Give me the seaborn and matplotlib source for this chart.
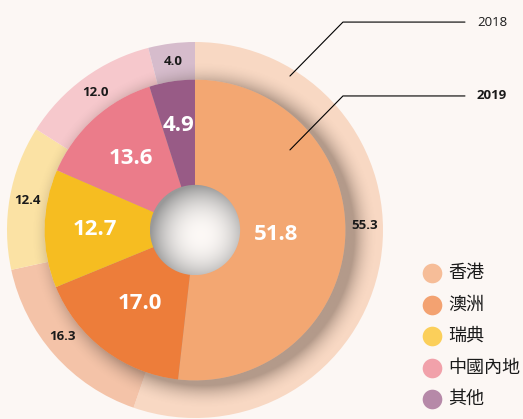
import numpy as np
import matplotlib.pyplot as plt
import seaborn as sns
from matplotlib.patches import Circle

# data
categories = ['香港', '澳洲', '瑞典', '中國內地', '其他']
values_2018 = [55.3, 16.3, 12.4, 12.0, 4.0]
values_2019 = [51.8, 17.0, 12.7, 13.6, 4.9]
years = ['2018', '2019']

colors_2018 = ['#f8d8c3', '#f4c3a8', '#fbe2a4', '#f6c8cc', '#d6bccc']
colors_2019 = ['#f3a772', '#ed7d3a', '#f6bd21', '#eb7c8a', '#985b86']
legend_colors = ['#f6bd98', '#f3a271', '#fbcf5a', '#f1a1aa', '#b689a8']
bg = '#fcf7f4'

sns.set_style('white')
plt.rcParams['font.family'] = ['Open Sans', 'Noto Sans CJK TC', 'DejaVu Sans']

fig = plt.figure(figsize=(5.23, 4.19), dpi=100, facecolor=bg)
ax = fig.add_axes([0, 0, 1, 1])
ax.set_facecolor(bg)

R_OUT, R_IN, R_HOLE = 1.0, 0.80, 0.24


def mid_angles(vals):
    cum = np.cumsum(vals) - np.array(vals) / 2
    return 90 - 360 * cum / sum(vals)


# outer ring (2018)
w_out, _ = ax.pie(values_2018, radius=R_OUT, colors=colors_2018, startangle=90,
                  counterclock=False, wedgeprops=dict(width=R_OUT - R_IN, linewidth=0))
for w in w_out:
    w.set_zorder(1)

# soft shadow of the inner disc falling on the outer ring
n = 600
g = np.linspace(-1, 1, n)
X, Y = np.meshgrid(g, g)
d = np.hypot(X - 0.05, Y + 0.03) - R_IN
alpha = 0.42 * np.clip(1 - d / 0.125, 0, 1) ** 2
shadow = np.zeros((n, n, 4))
shadow[..., :3] = np.array([0x55, 0x45, 0x3c]) / 255
shadow[..., 3] = alpha
ring = Circle((0, 0), R_OUT, transform=ax.transData)
sh = ax.imshow(shadow, extent=[-1, 1, -1, 1], origin='lower', zorder=2)
sh.set_clip_path(ring)

# inner pie (2019)
w_in, _ = ax.pie(values_2019, radius=R_IN, colors=colors_2019, startangle=90,
                 counterclock=False, wedgeprops=dict(linewidth=0))
for w in w_in:
    w.set_zorder(3)

# shaded centre ball
t = np.clip(np.hypot(X - 0.12, Y + 0.12) / 1.1, 0, 1) ** 2.2
light = np.array([0.99, 0.975, 0.965])
dark = np.array([0.60, 0.60, 0.60])
img = light + (dark - light) * t[..., None]
hole = Circle((0, 0), R_HOLE, transform=ax.transData)
im = ax.imshow(img, extent=[-R_HOLE, R_HOLE, -R_HOLE, R_HOLE], origin='lower', zorder=4)
im.set_clip_path(hole)

# value labels
out_shift = [11, -3, 0, 0, 0]
for v, a, s in zip(values_2018, mid_angles(values_2018), out_shift):
    a = np.deg2rad(a + s)
    ax.text(0.905 * np.cos(a), 0.905 * np.sin(a), f'{v:.1f}', ha='center', va='center',
            fontsize=9.5, fontweight='bold', color='#1a1a1a', zorder=5)

in_r = [0.43, 0.49, 0.53, 0.51, 0.56]
for v, a, r in zip(values_2019, mid_angles(values_2019), in_r):
    a = np.deg2rad(a)
    ax.text(r * np.cos(a), r * np.sin(a), f'{v:.1f}', ha='center', va='center',
            fontsize=16, fontweight='bold', color='white', zorder=5)

# year call-outs
for yr, (x0, y0), (x1, y1), wt in zip(years, [(0.505, 0.819), (0.505, 0.426)],
                                       [(0.787, 1.106), (0.787, 0.713)], ['normal', 'bold']):
    ax.plot([x0, x1, 1.436], [y0, y1, y1], color='black', lw=0.8, zorder=6)
    ax.text(1.50, y1, yr, ha='left', va='center', fontsize=9.5, fontweight=wt,
            color='#1a1a1a', zorder=6)

# legend
for i, (lab, c) in enumerate(zip(categories, legend_colors)):
    y = -0.229 - i * 0.1675
    ax.scatter(1.261, y, s=200, color=c, lw=0, zorder=6)
    ax.text(1.345, y, lab, ha='left', va='center', fontsize=13, color='#1a1a1a', zorder=6)

ax.set_xlim(-195 / 188, 328 / 188)
ax.set_ylim(-189 / 188, 230 / 188)
ax.set_aspect('equal')
ax.axis('off')

fig.savefig('out.png', dpi=100, facecolor=bg)
